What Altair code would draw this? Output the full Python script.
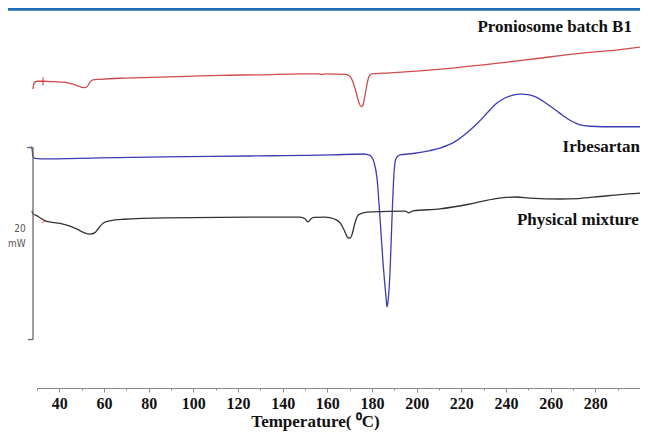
import altair as alt
import pandas as pd

# ---- DSC thermograms (temperature in degC, heat flow in mW, offset per trace) ----
series_names = ["Proniosome batch B1", "Irbesartan", "Physical mixture"]
series_colors = ["#cf4b4b", "#3c3cb4", "#333333"]

red_T = [28.2, 28.66, 30.0, 32.69, 38.06, 41.64, 46.12, 49.25, 51.04, 52.39, 53.73, 55.07,
         58.21, 67.16, 81.94, 97.16, 111.94, 129.85, 147.76, 155.82, 157.61, 159.40, 167.91,
         170.15, 171.49, 172.84, 174.18, 175.07, 175.97, 176.87, 177.76, 178.66, 180.0,
         188.06, 201.49, 217.16, 235.52, 253.88, 272.24, 291.04, 300.0]
red_H = [31.13, 31.75, 31.96, 31.96, 31.91, 31.86, 31.65, 31.39, 31.29, 31.39, 31.86, 32.11,
         32.16, 32.27, 32.37, 32.47, 32.58, 32.63, 32.73, 32.73, 32.66, 32.72, 32.68,
         32.47, 31.86, 30.86, 29.72, 29.31, 29.48, 30.52, 31.65, 32.47, 32.73,
         32.83, 33.04, 33.35, 33.81, 34.33, 34.84, 35.26, 35.51]

blue_T = [27.31, 27.76, 28.21, 29.10, 31.79, 58.21, 87.31, 125.37, 161.19, 176.42, 179.10,
          180.90, 182.24, 183.58, 184.93, 186.27, 186.72, 187.16, 188.06, 188.96, 189.85,
          190.75, 192.54, 198.36, 205.97, 210.45, 217.16, 222.54, 227.46, 231.94, 235.97,
          239.55, 243.13, 246.72, 249.85, 252.99, 256.12, 259.70, 264.18, 268.66, 273.13,
          277.61, 283.43, 300.0]
blue_H = [25.15, 24.95, 24.12, 23.92, 23.87, 23.97, 24.07, 24.17, 24.28, 24.38, 24.23,
          23.51, 21.86, 17.73, 13.09, 9.48, 8.45, 8.97, 12.06, 17.73, 22.37,
          23.92, 24.28, 24.43, 24.74, 25.0, 25.67, 26.60, 27.63, 28.76, 29.69,
          30.21, 30.52, 30.62, 30.57, 30.36, 29.95, 29.38, 28.61, 27.89, 27.42,
          27.27, 27.22, 27.22]

black_T = [27.76, 28.21, 30.0, 33.58, 38.06, 41.19, 44.78, 47.91, 51.04, 53.73, 55.97, 57.76,
           59.55, 62.69, 68.96, 87.31, 124.48, 147.76, 150.0, 151.34, 152.69, 154.03, 158.96,
           163.43, 165.67, 167.46, 169.25, 170.15, 171.04, 172.39, 173.73, 175.97, 180.0,
           194.78, 196.57, 198.36, 210.45, 223.88, 235.52, 244.48, 250.75, 264.18, 272.24,
           282.09, 291.04, 300.0]
black_H = [18.45, 18.14, 17.94, 17.42, 17.22, 17.11, 16.86, 16.55, 16.19, 16.03, 16.19, 16.70,
           17.16, 17.42, 17.58, 17.73, 17.80, 17.80, 17.63, 17.30, 17.63, 17.78, 17.80,
           17.58, 17.22, 16.49, 15.67, 15.62, 15.98, 17.22, 17.99, 18.25, 18.35,
           18.42, 18.26, 18.45, 18.66, 19.17, 19.74, 19.90, 19.79, 19.69, 19.74,
           19.95, 20.15, 20.31]

# trace labels
label_text = ["Proniosome batch B1", "Irbesartan", "Physical mixture"]
label_T = [296.4, 300.0, 299.5]
label_H = [37.63, 25.15, 17.53]

# 20 mW scale bar (bracket) and its label
bar_T = [28.21, 25.52, 25.97]
bar_T2 = [28.21, 28.21, 28.21]
bar_H = [5.05, 25.05, 5.05]
bar_H2 = [25.05, 25.05, 5.05]
bar_label = ["20", "mW"]
bar_label_T = [22.4, 21.0]
bar_label_H = [16.6, 15.0]

# instrument start markers (red)
mark_T = [32.69]
mark_H = [31.55]
mark_H2 = [32.37]
arrow_T = [33.0]
arrow_H = [17.42]

# header band
header_T = [17.0]
header_T2 = [300.0]
header_H = [39.45]

x_ticks = list(range(30, 301, 10))
x_title = "Temperature( \u2070C)"

def frame(name, T, H):
    return pd.DataFrame({"series": name, "T": T, "H": H, "i": list(range(len(T)))})

curves = pd.concat([frame(series_names[0], red_T, red_H),
                    frame(series_names[1], blue_T, blue_H),
                    frame(series_names[2], black_T, black_H)], ignore_index=True)

xs = alt.Scale(domain=[30, 300], nice=False, zero=False)
ys = alt.Scale(domain=[0, 39.59], nice=False, zero=False)

serif = "Liberation Serif"

x_axis = alt.Axis(values=x_ticks,
                  labelExpr="(datum.value >= 40 && datum.value <= 280 && datum.value % 20 == 0) ? datum.label : ''",
                  tickSize={"condition": {"test": "datum.value % 20 == 0", "value": 4}, "value": 2},
                  tickColor="#888888", domainColor="#888888", domainWidth=1.2,
                  labelFont=serif, labelFontWeight="bold", labelFontSize=16,
                  labelColor="#111111", labelPadding=3, labelFlush=False, labelOverlap=False,
                  grid=False,
                  titleFont=serif, titleFontWeight="bold", titleFontSize=17,
                  titleColor="#111111", titleX=278, titleY=38,
                  titleAnchor="middle", titleBaseline="alphabetic")


def X(field="T:Q"):
    return alt.X(field, scale=xs, axis=x_axis, title=x_title)


def Y(field="H:Q"):
    return alt.Y(field, scale=ys, axis=None)


lines = alt.Chart(curves).mark_line(strokeWidth=1.3, interpolate="monotone").encode(
    x=X(), y=Y(),
    color=alt.Color("series:N", scale=alt.Scale(domain=series_names, range=series_colors), legend=None),
    order="i:Q",
)

labels_df = pd.DataFrame({"text": label_text, "T": label_T, "H": label_H})
labels = alt.Chart(labels_df).mark_text(font=serif, fontWeight="bold", fontSize=17,
                                        align="right", baseline="middle", color="#111111").encode(
    x=X(), y=Y(), text="text:N")

bar_df = pd.DataFrame({"T": bar_T, "T2": bar_T2, "H": bar_H, "H2": bar_H2})
bar = alt.Chart(bar_df).mark_rule(color="#666666", strokeWidth=1.3).encode(
    x=X(), x2="T2:Q", y=Y(), y2="H2:Q")

bar_lab_df = pd.DataFrame({"text": bar_label, "T": bar_label_T, "H": bar_label_H})
bar_lab = alt.Chart(bar_lab_df).mark_text(font="DejaVu Sans Condensed, Liberation Sans Narrow, sans-serif",
                                          fontSize=10, color="#555555", align="center",
                                          baseline="middle").encode(
    x=X(), y=Y(), text="text:N")

mark_df = pd.DataFrame({"T": mark_T, "H": mark_H, "H2": mark_H2})
marks = alt.Chart(mark_df).mark_rule(color="#d03030", strokeWidth=1).encode(
    x=X(), y=Y(), y2="H2:Q")

arrow_df = pd.DataFrame({"T": arrow_T, "H": arrow_H})
arrow = alt.Chart(arrow_df).mark_point(shape="M-1,-1L1,0L-1,1", size=16, filled=False,
                                       color="#d03030", strokeWidth=1).encode(
    x=X(), y=Y())

header_df = pd.DataFrame({"T": header_T, "T2": header_T2, "H": header_H})
header = alt.Chart(header_df).mark_rule(color="#1f70b8", strokeWidth=3).encode(
    x=X(), x2="T2:Q", y=Y())

chart = alt.layer(lines, header, labels, bar, bar_lab, marks, arrow).properties(
    width=603, height=380,
    autosize=alt.AutoSizeParams(type="none"),
    padding={"left": 29, "top": 0, "right": 0, "bottom": 46},
    background="white",
).configure_view(stroke=None)

chart.save("out.html", embed_options={"renderer": "svg", "actions": False})
